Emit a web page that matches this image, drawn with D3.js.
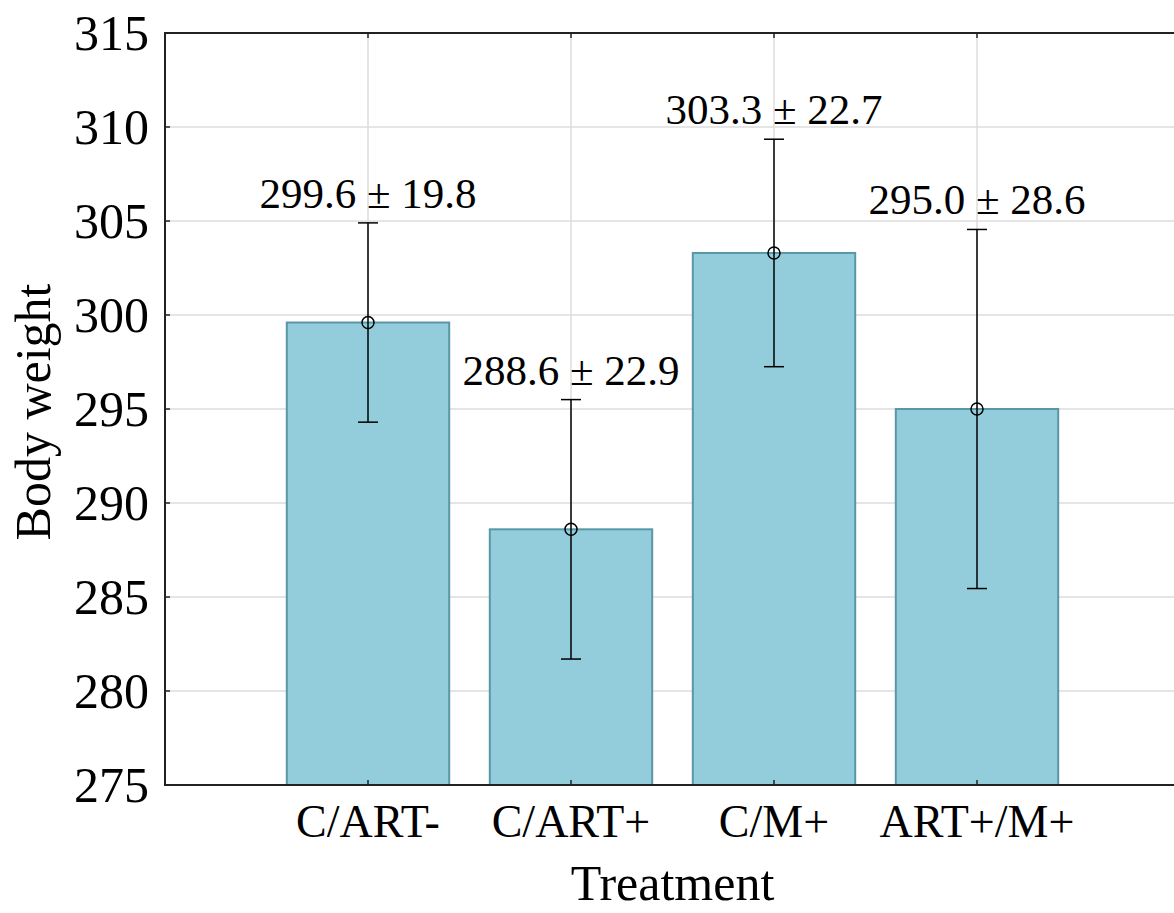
<!DOCTYPE html>
<html lang="en">
<head>
<meta charset="UTF-8">
<title>Body weight by treatment</title>
<script src="https://d3js.org/d3.v7.min.js"></script>
<style>
    body { margin: 0; background: #fff; }
    svg text { font-family: "Liberation Serif", "Times New Roman", serif; fill: #000; }
</style>
</head>
<body>
<div id="chart"></div>
<script>
    // data
    const treatments = ["C/ART-", "C/ART+", "C/M+", "ART+/M+"];
    const means = [299.6, 288.6, 303.3, 295.0];
    const sds = [19.8, 22.9, 22.7, 28.6];
    const errBars = [5.3, 6.9, 6.05, 9.55];   // drawn error bar half-length
    const yTicks = [275, 280, 285, 290, 295, 300, 305, 310, 315];

    const width = 1174, height = 913;
    const margin = { left: 165, top: 33, bottom: 128 };
    const plotRight = 1180; // frame runs past the image edge

    const svg = d3.select("#chart").append("svg")
        .attr("width", width)
        .attr("height", height);

    const x = d3.scaleLinear().domain([-1, 4]).range([margin.left, plotRight]);
    const y = d3.scaleLinear().domain([275, 315]).range([height - margin.bottom, margin.top]);
    const barW = x(0.8) - x(0);

    // grid
    svg.append("g").selectAll("line.hg")
        .data(yTicks)
        .join("line")
        .attr("x1", margin.left).attr("x2", plotRight)
        .attr("y1", d => y(d)).attr("y2", d => y(d))
        .attr("stroke", "#dcdcdc").attr("stroke-width", 1.5);

    svg.append("g").selectAll("line.vg")
        .data(treatments)
        .join("line")
        .attr("x1", (d, i) => x(i)).attr("x2", (d, i) => x(i))
        .attr("y1", y(315)).attr("y2", y(275))
        .attr("stroke", "#dcdcdc").attr("stroke-width", 1.5);

    // bars
    svg.append("g").selectAll("rect")
        .data(means)
        .join("rect")
        .attr("x", (d, i) => x(i) - barW / 2)
        .attr("width", barW)
        .attr("y", d => y(d))
        .attr("height", d => y(275) - y(d))
        .attr("fill", "#93cddb")
        .attr("stroke", "#5a97a5")
        .attr("stroke-width", 2);

    // error bars
    const eb = svg.append("g").attr("stroke", "#000").attr("stroke-width", 1.5).attr("fill", "none");
    means.forEach((m, i) => {
        const cx = x(i);
        const hi = y(m + errBars[i]), lo = y(m - errBars[i]);
        eb.append("line").attr("x1", cx).attr("x2", cx).attr("y1", hi).attr("y2", lo);
        eb.append("line").attr("x1", cx - 10).attr("x2", cx + 10).attr("y1", hi).attr("y2", hi);
        eb.append("line").attr("x1", cx - 10).attr("x2", cx + 10).attr("y1", lo).attr("y2", lo);
        eb.append("circle").attr("cx", cx).attr("cy", y(m)).attr("r", 6);
    });

    // value labels
    svg.append("g").selectAll("text")
        .data(means)
        .join("text")
        .attr("x", (d, i) => x(i))
        .attr("y", (d, i) => y(d + errBars[i]) - 15)
        .attr("text-anchor", "middle")
        .style("font-size", "43px")
        .text((d, i) => `${d.toFixed(1)} \u00b1 ${sds[i].toFixed(1)}`);

    // frame (left, top, bottom)
    const frame = svg.append("g").attr("stroke", "#222").attr("stroke-width", 2).attr("fill", "none");
    frame.append("line").attr("x1", margin.left).attr("x2", margin.left).attr("y1", y(315)).attr("y2", y(275));
    frame.append("line").attr("x1", margin.left - 1).attr("x2", plotRight).attr("y1", y(315)).attr("y2", y(315));
    frame.append("line").attr("x1", margin.left - 1).attr("x2", plotRight).attr("y1", y(275)).attr("y2", y(275));

    // inward ticks
    const ticks = svg.append("g").attr("stroke", "#222").attr("stroke-width", 1.5);
    yTicks.forEach(t => {
        ticks.append("line").attr("x1", margin.left).attr("x2", margin.left + 5).attr("y1", y(t)).attr("y2", y(t));
    });
    treatments.forEach((t, i) => {
        ticks.append("line").attr("x1", x(i)).attr("x2", x(i)).attr("y1", y(275)).attr("y2", y(275) - 5);
        ticks.append("line").attr("x1", x(i)).attr("x2", x(i)).attr("y1", y(315)).attr("y2", y(315) + 5);
    });

    // y tick labels
    svg.append("g").selectAll("text")
        .data(yTicks)
        .join("text")
        .attr("x", margin.left - 16)
        .attr("y", d => y(d))
        .attr("dy", "0.34em")
        .attr("text-anchor", "end")
        .style("font-size", "50px")
        .text(d => d);

    // x tick labels
    svg.append("g").selectAll("text")
        .data(treatments)
        .join("text")
        .attr("x", (d, i) => x(i))
        .attr("y", 837)
        .attr("text-anchor", "middle")
        .style("font-size", "46px")
        .text(d => d);

    // axis titles
    svg.append("text")
        .attr("x", x(1.5))
        .attr("y", 900)
        .attr("text-anchor", "middle")
        .style("font-size", "50px")
        .text("Treatment");

    svg.append("text")
        .attr("transform", `translate(50, ${(y(275) + y(315)) / 2 + 3}) rotate(-90)`)
        .attr("text-anchor", "middle")
        .style("font-size", "50px")
        .text("Body weight");
</script>
</body>
</html>
